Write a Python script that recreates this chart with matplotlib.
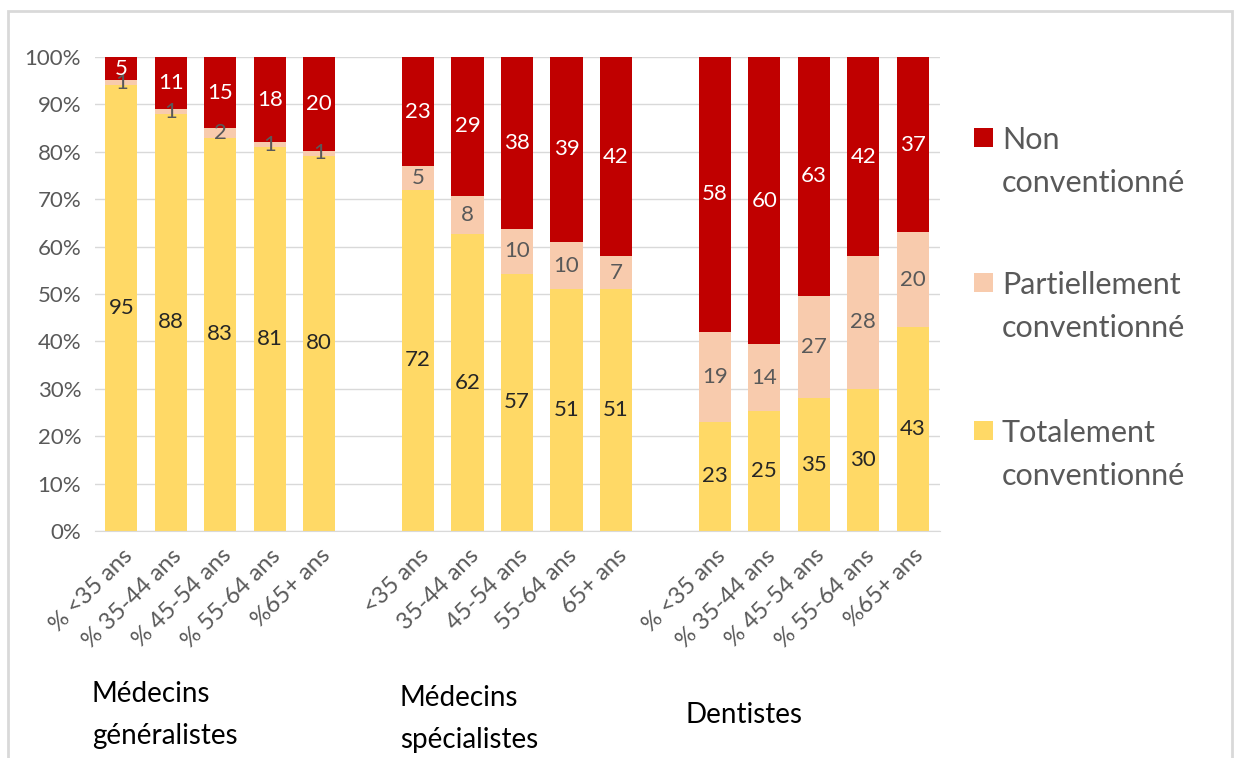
import numpy as np
import matplotlib.pyplot as plt
from matplotlib.patches import Rectangle

plt.rcParams['font.family'] = ['Lato', 'DejaVu Sans']

# libelles des tranches d'age
labels = ['% <35 ans', '% 35-44 ans', '% 45-54 ans', '% 55-64 ans', '%65+ ans',
          '<35 ans', '35-44 ans', '45-54 ans', '55-64 ans', '65+ ans',
          '% <35 ans', '% 35-44 ans', '% 45-54 ans', '% 55-64 ans', '%65+ ans']
groupes = ['Médecins\ngénéralistes', 'Médecins\nspécialistes', 'Dentistes']
series = ['Non\nconventionné', 'Partiellement\nconventionné', 'Totalement\nconventionné']

totalement = [95, 88, 83, 81, 80, 72, 62, 57, 51, 51, 23, 25, 35, 30, 43]
partiellement = [1, 1, 2, 1, 1, 5, 8, 10, 10, 7, 19, 14, 27, 28, 20]
non_conv = [5, 11, 15, 18, 20, 23, 29, 38, 39, 42, 58, 60, 63, 42, 37]

c_tot = '#ffd966'
c_part = '#f8cbad'
c_non = '#c00000'

tot = np.array(totalement, float)
part = np.array(partiellement, float)
non = np.array(non_conv, float)
somme = tot + part + non
h_tot = tot / somme * 100
h_part = part / somme * 100
h_non = non / somme * 100

x = np.array(list(range(0, 5)) + list(range(6, 11)) + list(range(12, 17)))

fig = plt.figure(figsize=(12.36, 7.58), dpi=100)
ax = fig.add_axes([0.0769, 0.2995, 0.6836, 0.6253])

w = 0.65
ax.bar(x, h_tot, w, color=c_tot, zorder=2)
ax.bar(x, h_part, w, bottom=h_tot, color=c_part, zorder=2)
ax.bar(x, h_non, w, bottom=h_tot + h_part, color=c_non, zorder=2)

# etiquettes de donnees
for i in range(len(x)):
    ax.text(x[i], h_tot[i] / 2, str(totalement[i]), ha='center', va='center',
            fontsize=16, color='#262626', zorder=3)
    ax.text(x[i], h_tot[i] + h_part[i] / 2, str(partiellement[i]), ha='center', va='center',
            fontsize=16, color='#595959', zorder=3)
    ax.text(x[i], h_tot[i] + h_part[i] + h_non[i] / 2, str(non_conv[i]), ha='center', va='center',
            fontsize=16, color='white', zorder=3)

ax.set_ylim(0, 100)
ax.set_xlim(-0.53, 16.55)
ax.set_yticks(np.arange(0, 101, 10))
ax.set_yticklabels(['{}%'.format(v) for v in range(0, 101, 10)])
ax.yaxis.grid(True, color='#d9d9d9', linewidth=1, zorder=0)
ax.set_xticks(x)
ax.set_xticklabels(labels, rotation=45, ha='right', va='top', rotation_mode='anchor')
for s in ['top', 'right', 'left']:
    ax.spines[s].set_visible(False)
ax.spines['bottom'].set_color('#d9d9d9')
ax.tick_params(axis='both', length=0, labelsize=16, labelcolor='#595959')
ax.tick_params(axis='x', labelsize=17, pad=10)
ax.tick_params(axis='y', pad=10)

# legende (carre aligne sur la premiere ligne)
couleurs = [c_non, c_part, c_tot]
y_leg = [138, 283, 431]
for nom, c, yl in zip(series, couleurs, y_leg):
    fig.patches.append(Rectangle((974 / 1236, 1 - (yl + 9) / 758), 19 / 1236, 19 / 758,
                                 transform=fig.transFigure, facecolor=c, edgecolor='none'))
    fig.text(1002 / 1236, 1 - (yl - 12) / 758, nom, fontsize=22, color='#595959',
             ha='left', va='top', linespacing=1.65)

# noms des groupes
fig.text(92 / 1236, 1 - 681 / 758, groupes[0], fontsize=20, color='black',
         ha='left', va='top', linespacing=1.75)
fig.text(400 / 1236, 1 - 685 / 758, groupes[1], fontsize=20, color='black',
         ha='left', va='top', linespacing=1.75)
fig.text(685 / 1236, 1 - 715 / 758, groupes[2], fontsize=20, color='black',
         ha='left', va='center')

# cadre
fig.patches.append(Rectangle((8 / 1236, -0.1), 1224 / 1236, 1.1 - 11 / 758,
                             transform=fig.transFigure, fill=False,
                             edgecolor='#d9d9d9', linewidth=2))

fig.savefig('out.png', dpi=100)
